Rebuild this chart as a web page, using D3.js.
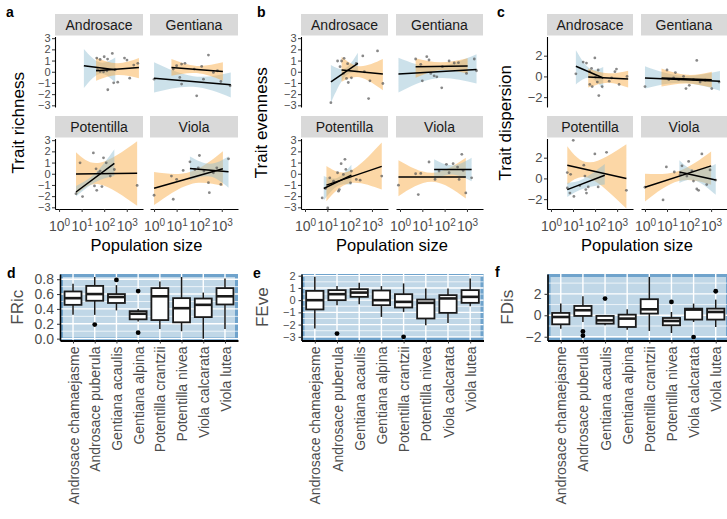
<!DOCTYPE html>
<html>
<head>
<meta charset="utf-8">
<script src="https://cdn.jsdelivr.net/npm/d3@7"></script>
<style>
  body { margin: 0; background: #fff; }
  svg { display: block; font-family: "Liberation Sans", Arial, Helvetica, sans-serif; }
</style>
</head>
<body>
<svg id="chart" width="727" height="519"></svg>
<script>
// ---------------------------------------------------------------
// Data
// ---------------------------------------------------------------
const genera = ["Androsace", "Gentiana", "Potentilla", "Viola"];
const species = ["Androsace chamaejasme", "Androsace puberula", "Gentiana acaulis", "Gentiana alpina",
                 "Potentilla crantzii", "Potentilla nivea", "Viola calcarata", "Viola lutea"];
const popDecades = [0, 1, 2, 3];          // log10 population size ticks
const traitTicks = [-3, -2, -1, 0, 1, 2, 3];
const dispersionTicks = [-2, 0, 2];

// Populations: [genus, log10 population size, standardised trait value]
const richnessPoints = [
  ["Androsace",1.67,1.22],["Androsace",1.82,1.10],["Androsace",2.00,1.34],["Androsace",2.15,1.13],["Androsace",2.36,1.64],
  ["Androsace",1.70,0.18],["Androsace",1.82,0.03],["Androsace",1.97,0.00],["Androsace",2.12,0.09],["Androsace",2.42,-0.99],
  ["Androsace",2.60,-0.93],["Androsace",2.16,-1.61],["Androsace",2.90,1.22],["Androsace",3.01,1.04],["Androsace",3.13,-0.57],
  ["Androsace",3.31,0.60],["Androsace",3.49,0.75],["Androsace",2.49,0.18],
  ["Gentiana",0.00,-0.66],["Gentiana",0.85,0.24],["Gentiana",1.00,0.54],["Gentiana",1.22,0.69],["Gentiana",1.37,0.75],
  ["Gentiana",1.14,-0.51],["Gentiana",1.22,-1.10],["Gentiana",1.89,-2.15],["Gentiana",2.11,0.48],["Gentiana",2.41,1.49],
  ["Gentiana",2.19,-0.66],["Gentiana",2.63,-0.06],["Gentiana",2.81,0.09],["Gentiana",2.96,-0.87],["Gentiana",3.37,-1.25],
  ["Gentiana",1.78,0.24],
  ["Potentilla",0.75,-1.78],["Potentilla",0.93,0.98],["Potentilla",1.04,-2.04],["Potentilla",1.52,1.86],["Potentilla",1.64,0.44],
  ["Potentilla",1.57,-1.09],["Potentilla",1.67,-1.48],["Potentilla",1.97,1.42],["Potentilla",2.09,0.98],["Potentilla",2.27,-0.21],
  ["Potentilla",2.45,0.38],["Potentilla",3.46,-1.04],["Potentilla",1.82,0.24],["Potentilla",1.90,-1.15],["Potentilla",1.75,0.09],
  ["Viola",0.00,-1.92],["Viola",0.77,-0.21],["Viola",0.85,-2.28],["Viola",1.00,-0.50],["Viola",1.29,0.30],
  ["Viola",1.59,1.07],["Viola",1.81,0.38],["Viola",2.01,1.63],["Viola",2.21,0.24],["Viola",2.41,-0.80],
  ["Viola",2.45,-1.69],["Viola",2.63,0.09],["Viola",2.78,0.53],["Viola",2.96,-0.95],["Viola",3.30,1.33],["Viola",1.96,0.53]
];
const evennessPoints = [
  ["Androsace",1.16,-2.76],["Androsace",1.46,0.96],["Androsace",1.64,0.96],["Androsace",1.75,1.20],["Androsace",1.91,0.72],
  ["Androsace",1.72,-0.15],["Androsace",1.86,-0.60],["Androsace",1.94,-0.96],["Androsace",2.08,-0.54],["Androsace",2.30,0.75],
  ["Androsace",2.59,1.41],["Androsace",2.66,0.00],["Androsace",2.91,-0.81],["Androsace",2.85,-2.40],["Androsace",3.25,1.86],
  ["Androsace",3.49,-1.05],["Androsace",1.57,0.45],
  ["Gentiana",0.70,1.14],["Gentiana",0.93,0.66],["Gentiana",1.20,1.35],["Gentiana",1.38,-0.15],["Gentiana",1.00,-0.81],
  ["Gentiana",1.53,-0.36],["Gentiana",1.65,-0.45],["Gentiana",1.87,-1.44],["Gentiana",1.90,0.45],["Gentiana",2.20,0.96],
  ["Gentiana",2.43,0.78],["Gentiana",2.62,0.81],["Gentiana",2.98,-0.15],["Gentiana",3.33,1.14],["Gentiana",3.43,0.09],
  ["Gentiana",1.30,1.05],
  ["Potentilla",0.77,-2.16],["Potentilla",0.92,-1.32],["Potentilla",1.02,-3.06],["Potentilla",1.11,-0.36],["Potentilla",1.46,0.09],
  ["Potentilla",1.50,-1.56],["Potentilla",1.54,-1.41],["Potentilla",1.62,0.90],["Potentilla",1.79,1.29],["Potentilla",1.83,0.39],
  ["Potentilla",2.08,0.24],["Potentilla",2.04,-0.81],["Potentilla",2.30,-0.51],["Potentilla",2.47,-0.57],["Potentilla",3.44,-0.21],
  ["Potentilla",1.28,-0.66],["Potentilla",1.72,-0.06],
  ["Viola",-0.07,-1.02],["Viola",0.70,0.00],["Viola",0.93,0.03],["Viola",0.82,-1.86],["Viola",1.30,1.05],
  ["Viola",1.57,-0.51],["Viola",1.75,0.24],["Viola",2.08,0.84],["Viola",2.20,0.09],["Viola",2.38,0.90],
  ["Viola",2.65,-0.51],["Viola",2.77,1.74],["Viola",2.83,0.30],["Viola",2.95,-1.71],["Viola",3.21,-0.36],["Viola",2.58,0.60]
];
const dispersionPoints = [
  ["Androsace",1.13,0.25],["Androsace",1.46,1.38],["Androsace",1.61,1.29],["Androsace",1.99,1.78],["Androsace",1.84,0.77],
  ["Androsace",1.76,0.46],["Androsace",2.02,-0.06],["Androsace",2.14,0.62],["Androsace",1.76,-0.77],["Androsace",1.87,-0.98],
  ["Androsace",2.10,-0.55],["Androsace",2.17,-1.85],["Androsace",2.32,-0.98],["Androsace",2.64,-0.46],["Androsace",2.90,0.46],
  ["Androsace",2.97,0.71],["Androsace",2.75,-0.15],["Androsace",3.09,-0.77],["Androsace",3.45,0.00],
  ["Gentiana",0.00,-0.98],["Gentiana",1.00,0.62],["Gentiana",1.38,0.37],["Gentiana",1.08,-0.31],["Gentiana",1.30,-0.15],
  ["Gentiana",1.53,-0.31],["Gentiana",1.86,-1.17],["Gentiana",2.01,-0.86],["Gentiana",2.35,1.54],["Gentiana",2.50,-0.55],
  ["Gentiana",2.73,-0.37],["Gentiana",3.03,-1.17],["Gentiana",3.36,-0.55],["Gentiana",1.75,0.00],["Gentiana",2.20,-0.31],
  ["Potentilla",0.74,0.56],["Potentilla",0.89,0.39],["Potentilla",1.01,3.67],["Potentilla",0.74,-0.92],["Potentilla",0.86,-1.41],
  ["Potentilla",1.04,-1.74],["Potentilla",1.31,-0.69],["Potentilla",1.54,0.23],["Potentilla",1.49,1.28],["Potentilla",1.61,-1.41],
  ["Potentilla",1.69,-0.82],["Potentilla",1.99,2.36],["Potentilla",2.14,-0.82],["Potentilla",2.52,2.52],["Potentilla",3.42,-1.15],
  ["Potentilla",1.58,-1.08],
  ["Viola",0.00,-0.85],["Viola",0.82,-2.07],["Viola",0.97,1.11],["Viola",1.33,0.62],["Viola",1.60,0.39],
  ["Viola",1.68,1.21],["Viola",1.98,1.64],["Viola",2.13,0.72],["Viola",2.35,-1.02],["Viola",2.43,-1.15],
  ["Viola",2.58,2.36],["Viola",2.80,-0.59],["Viola",2.95,0.82],["Viola",3.21,-0.16],["Viola",1.90,0.23],["Viola",2.20,-0.26]
];

// Linear fits per species (grp 0 / 1): fitted line from (x0,y0) to (x1,y1) on log10 size,
// 95% band lower/upper at x0, at the narrowest point xm, and at x1
const richnessFits = [
  {genus:"Androsace", grp:1, x0:1.10, x1:2.49, y0:0.54, y1:0.18, xm:1.80, lo:[-1.46,-0.20,-0.96], hi:[2.03,0.84,1.28]},
  {genus:"Androsace", grp:0, x0:1.64, x1:3.54, y0:0.09, y1:0.39, xm:2.57, lo:[-0.80,-0.30,-0.57], hi:[1.28,0.75,1.22]},
  {genus:"Gentiana", grp:1, x0:0.00, x1:3.40, y0:-0.57, y1:-1.16, xm:1.74, lo:[-1.85,-1.35,-2.30], hi:[0.84,-0.40,-0.06]},
  {genus:"Gentiana", grp:0, x0:0.77, x1:3.05, y0:0.39, y1:0.03, xm:1.89, lo:[-0.36,-0.12,-0.80], hi:[1.13,0.52,0.84]},
  {genus:"Potentilla", grp:0, x0:0.75, x1:3.46, y0:-0.02, y1:0.04, xm:1.80, lo:[-1.92,-0.95,-2.87], hi:[1.92,0.98,2.90]},
  {genus:"Potentilla", grp:1, x0:0.75, x1:2.45, y0:-1.63, y1:0.92, xm:1.60, lo:[-2.04,-0.75,-0.20], hi:[-1.10,0.05,2.20]},
  {genus:"Viola", grp:0, x0:0.00, x1:3.05, y0:-1.30, y1:0.44, xm:1.59, lo:[-2.80,-0.95,-1.10], hi:[0.15,0.15,2.00]},
  {genus:"Viola", grp:1, x0:1.59, x1:3.30, y0:0.47, y1:0.18, xm:2.48, lo:[-0.60,-0.25,-1.24], hi:[1.55,0.90,1.57]}
];
const evennessFits = [
  {genus:"Androsace", grp:1, x0:1.16, x1:2.37, y0:-0.90, y1:0.75, xm:1.79, lo:[-2.76,-0.45,-0.10], hi:[0.60,0.30,1.70]},
  {genus:"Androsace", grp:0, x0:1.64, x1:3.49, y0:0.15, y1:-0.21, xm:2.45, lo:[-0.90,-0.50,-1.65], hi:[1.35,0.50,1.14]},
  {genus:"Gentiana", grp:1, x0:-0.07, x1:3.43, y0:-0.21, y1:0.21, xm:1.60, lo:[-1.86,-0.60,-1.05], hi:[1.26,0.45,1.56]},
  {genus:"Gentiana", grp:0, x0:0.70, x1:3.03, y0:0.45, y1:0.51, xm:1.83, lo:[-0.54,0.15,-0.15], hi:[1.20,0.84,1.20]},
  {genus:"Potentilla", grp:1, x0:0.84, x1:2.08, y0:-1.32, y1:-0.12, xm:1.46, lo:[-2.40,-1.10,-1.00], hi:[-0.21,-0.35,0.80]},
  {genus:"Potentilla", grp:0, x0:0.96, x1:3.44, y0:-1.02, y1:0.66, xm:2.00, lo:[-2.46,-0.85,-1.41], hi:[0.69,0.25,2.80]},
  {genus:"Viola", grp:0, x0:-0.07, x1:2.95, y0:-0.30, y1:-0.30, xm:1.45, lo:[-2.00,-0.72,-2.22], hi:[1.20,0.09,1.44]},
  {genus:"Viola", grp:1, x0:1.53, x1:3.21, y0:0.39, y1:0.39, xm:2.35, lo:[-0.51,-0.06,-0.66], hi:[1.29,0.75,1.44]}
];
const dispersionFits = [
  {genus:"Androsace", grp:1, x0:1.13, x1:2.37, y0:0.98, y1:-0.15, xm:1.76, lo:[-0.77,-0.15,-1.23], hi:[2.52,0.77,0.92]},
  {genus:"Androsace", grp:0, x0:1.69, x1:3.50, y0:-0.06, y1:-0.25, xm:2.60, lo:[-1.08,-0.60,-1.08], hi:[0.77,0.30,0.55]},
  {genus:"Gentiana", grp:1, x0:0.00, x1:3.40, y0:-0.15, y1:-0.46, xm:1.68, lo:[-1.17,-0.62,-1.38], hi:[0.98,0.06,0.52]},
  {genus:"Gentiana", grp:0, x0:0.75, x1:3.03, y0:-0.15, y1:-0.31, xm:1.90, lo:[-0.98,-0.68,-1.08], hi:[0.77,0.15,0.46]},
  {genus:"Potentilla", grp:0, x0:0.74, x1:3.42, y0:1.28, y1:0.00, xm:1.76, lo:[-0.59,0.00,-2.90], hi:[3.11,1.55,3.30]},
  {genus:"Potentilla", grp:1, x0:0.74, x1:2.44, y0:-1.08, y1:0.30, xm:1.46, lo:[-1.80,-1.00,-0.59], hi:[-0.43,-0.05,1.38]},
  {genus:"Viola", grp:0, x0:0.00, x1:3.00, y0:-0.85, y1:1.21, xm:1.53, lo:[-2.23,-0.26,-0.60], hi:[0.46,0.72,2.60]},
  {genus:"Viola", grp:1, x0:1.56, x1:3.21, y0:0.62, y1:-0.16, xm:2.28, lo:[-0.45,-0.20,-1.57], hi:[1.75,0.80,1.38]}
];

// Box summaries per species: [lower whisker, Q1, median, Q3, upper whisker]
const fricStats = [
  [0.32,0.455,0.545,0.635,0.74],[0.32,0.51,0.60,0.71,0.83],[0.38,0.48,0.56,0.60,0.72],[0.23,0.26,0.335,0.37,0.40],
  [0.13,0.25,0.57,0.68,0.77],[0.10,0.22,0.41,0.545,0.83],[0.00,0.29,0.455,0.54,0.62],[0.13,0.46,0.57,0.68,0.81]
];
const fricOutliers = [[1,0.19],[2,0.79],[3,0.64],[3,0.08]];
const feveStats = [
  [-2.32,-0.76,0.00,0.76,1.91],[-0.41,0.00,0.49,0.82,1.15],[-0.33,0.27,0.62,0.90,1.42],[-1.37,-0.41,0.00,0.79,1.15],
  [-0.96,-0.60,-0.14,0.49,1.37],[-2.05,-1.50,-0.22,0.05,0.96],[-1.86,-1.04,0.14,0.41,0.96],[-0.49,-0.22,0.27,0.82,1.78]
];
const feveOutliers = [[1,-2.73],[4,-3.00]];
const fdisStats = [
  [-1.25,-0.84,-0.16,0.22,1.09],[-0.62,-0.06,0.47,0.87,1.78],[-0.93,-0.78,-0.47,-0.06,0.00],[-1.34,-1.09,-0.31,0.06,0.56],
  [-1.46,0.16,0.56,1.50,3.58],[-1.65,-0.93,-0.53,-0.25,0.31],[-0.62,-0.40,0.53,0.62,1.09],[-1.09,-0.40,0.31,0.62,1.46]
];
const fdisOutliers = [[1,-1.50],[1,-1.90],[2,1.56],[5,1.25],[6,-2.03],[7,2.24]];

// ---------------------------------------------------------------
// Drawing
// ---------------------------------------------------------------
const FONT = '"Liberation Sans", Arial, Helvetica, sans-serif';
const svg = d3.select("#chart");
const groupFill = d3.scaleOrdinal().domain([0, 1]).range(["#f9a63a", "#8fbcd0"]);
const minus = v => (v < 0 ? "\u2212" : "") + Math.abs(v);

function styleAxis(ax, size) {
  ax.attr("font-size", null).attr("font-family", null);
  ax.select(".domain").attr("stroke", "#000").attr("stroke-width", 1.1);
  ax.selectAll(".tick line").attr("stroke", "#333").attr("stroke-width", 1);
  ax.selectAll(".tick text").attr("fill", "#4d4d4d").attr("font-size", size).attr("font-family", FONT);
}

function panelLetter(letter, x, y) {
  svg.append("text").attr("x", x).attr("y", y).attr("font-size", 14).attr("font-weight", "bold")
     .attr("fill", "#000").text(letter);
}

// faceted scatter + fit panels (a-c)
const facetRows = [{strip: [14, 35.5], plot: [36.5, 107]}, {strip: [116, 137.5], plot: [138.5, 209]}];
const popDomain = [-0.18, 3.72];

function facetPanel(cfg) {
  const g = svg.append("g");
  genera.forEach((gen, i) => {
    const c = i % 2, r = Math.floor(i / 2);
    const [cx0, cx1] = cfg.cols[c];
    const [sy0, sy1] = facetRows[r].strip;
    const [py0, py1] = facetRows[r].plot;
    const xs = d3.scaleLinear().domain(popDomain).range([cx0, cx1]);
    const ys = d3.scaleLinear().domain(cfg.yDomain).range([py1, py0]);

    g.append("rect").attr("x", cx0).attr("y", sy0).attr("width", cx1 - cx0).attr("height", sy1 - sy0)
     .attr("fill", "#d9d9d9");
    g.append("text").attr("x", (cx0 + cx1) / 2).attr("y", (sy0 + sy1) / 2).attr("dy", "0.36em")
     .attr("text-anchor", "middle").attr("font-size", 14).attr("fill", "#1a1a1a").text(gen);

    const clipId = `clip-${cfg.key}-${i}`;
    g.append("clipPath").attr("id", clipId).append("rect")
     .attr("x", cx0).attr("y", py0).attr("width", cx1 - cx0).attr("height", py1 - py0);
    const body = g.append("g").attr("clip-path", `url(#${clipId})`);

    const fits = cfg.fits.filter(f => f.genus === gen);
    const band = d3.area().x(d => xs(d[0])).y0(d => ys(d[1])).y1(d => ys(d[2])).curve(d3.curveNatural);
    fits.forEach(f => {
      body.append("path")
        .attr("d", band([[f.x0, f.lo[0], f.hi[0]], [f.xm, f.lo[1], f.hi[1]], [f.x1, f.lo[2], f.hi[2]]]))
        .attr("fill", groupFill(f.grp)).attr("fill-opacity", 0.45);
    });
    body.selectAll("circle").data(cfg.points.filter(p => p[0] === gen)).join("circle")
      .attr("cx", d => xs(d[1])).attr("cy", d => ys(d[2])).attr("r", 1.4)
      .attr("fill", "#555").attr("fill-opacity", 0.7);
    fits.forEach(f => {
      body.append("line").attr("x1", xs(f.x0)).attr("y1", ys(f.y0)).attr("x2", xs(f.x1)).attr("y2", ys(f.y1))
        .attr("stroke", "#000").attr("stroke-width", 1.5);
    });

    if (c === 0) {
      const ay = g.append("g").attr("transform", `translate(${cx0},0)`)
        .call(d3.axisLeft(ys).tickValues(cfg.yTicks).tickSize(3).tickSizeOuter(0).tickPadding(1.5).tickFormat(minus));
      styleAxis(ay, cfg.yTickSize);
    }
    if (r === 1) {
      const ax = g.append("g").attr("transform", `translate(0,${py1})`)
        .call(d3.axisBottom(xs).tickValues(popDecades).tickSize(3).tickSizeOuter(0).tickPadding(9.5));
      styleAxis(ax, 14);
      ax.selectAll(".tick text").text(null).each(function(d) {
        const t = d3.select(this);
        t.append("tspan").text("10");
        t.append("tspan").attr("dy", "-0.5em").attr("font-size", 10).text(d);
      });
    }
  });
  const [c0, c1] = cfg.cols;
  g.append("text").attr("text-anchor", "middle").attr("font-size", 16.5).attr("fill", "#000")
    .attr("x", (c0[0] + c1[1]) / 2).attr("y", 250.5).text("Population size");
  g.append("text").attr("text-anchor", "middle").attr("font-size", 17).attr("fill", "#000").attr("dy", "0.36em")
    .attr("transform", `translate(${cfg.titleX},${(facetRows[0].plot[0] + facetRows[1].plot[1]) / 2}) rotate(-90)`)
    .text(cfg.title);
}

// box plot panels (d-f)
function boxPanel(cfg) {
  const g = svg.append("g");
  const [x0, x1] = cfg.xr, [y0, y1] = [274, 340.5];
  const xs = d3.scalePoint().domain(species).range([x0, x1]).padding(0.6);
  const ys = d3.scaleLinear().domain(cfg.yDomain).range([y1, y0]);
  const step = xs.step(), bw = step * 0.78;

  g.append("rect").attr("x", x0).attr("y", y0).attr("width", x1 - x0).attr("height", y1 - y0).attr("fill", "#c0d7e7");
  g.append("rect").attr("x", x0 + 1.5).attr("y", y0 + 1.5).attr("width", x1 - x0 - 3).attr("height", y1 - y0 - 3)
   .attr("fill", "none").attr("stroke", "#6fa3cc").attr("stroke-width", 3);
  cfg.minor.forEach(v => g.append("line").attr("x1", x0).attr("x2", x1).attr("y1", ys(v)).attr("y2", ys(v))
    .attr("stroke", "#fff").attr("stroke-width", 0.7));
  cfg.major.forEach(v => g.append("line").attr("x1", x0).attr("x2", x1).attr("y1", ys(v)).attr("y2", ys(v))
    .attr("stroke", "#fff").attr("stroke-width", 1.4));
  species.forEach(s => g.append("line").attr("x1", xs(s)).attr("x2", xs(s)).attr("y1", y0).attr("y2", y1)
    .attr("stroke", "#fff").attr("stroke-width", 1.4));

  cfg.stats.forEach((st, i) => {
    const cx = xs(species[i]);
    const [lo, q1, med, q3, hi] = st;
    g.append("line").attr("x1", cx).attr("x2", cx).attr("y1", ys(hi)).attr("y2", ys(q3))
      .attr("stroke", "#1a1a1a").attr("stroke-width", 1.5);
    g.append("line").attr("x1", cx).attr("x2", cx).attr("y1", ys(q1)).attr("y2", ys(lo))
      .attr("stroke", "#1a1a1a").attr("stroke-width", 1.5);
    g.append("rect").attr("x", cx - bw / 2).attr("width", bw).attr("y", ys(q3)).attr("height", ys(q1) - ys(q3))
      .attr("fill", "#fff").attr("stroke", "#1a1a1a").attr("stroke-width", 1.8);
    g.append("line").attr("x1", cx - bw / 2).attr("x2", cx + bw / 2).attr("y1", ys(med)).attr("y2", ys(med))
      .attr("stroke", "#1a1a1a").attr("stroke-width", 2.6);
  });
  g.selectAll("circle.out").data(cfg.outliers).join("circle").attr("class", "out")
    .attr("cx", d => xs(species[d[0]])).attr("cy", d => ys(d[1])).attr("r", 2.4).attr("fill", "#000");

  const ay = g.append("g").attr("transform", `translate(${x0},0)`)
    .call(d3.axisLeft(ys).tickValues(cfg.major).tickSize(3).tickSizeOuter(0).tickPadding(3).tickFormat(cfg.fmt));
  styleAxis(ay, cfg.tickSize);
  ay.select(".domain").attr("stroke-width", 1.6);
  const ax = g.append("g").attr("transform", `translate(0,${y1})`)
    .call(d3.axisBottom(xs).tickSize(3).tickSizeOuter(0));
  styleAxis(ax, 14);
  ax.select(".domain").attr("stroke-width", 1.8);
  ax.selectAll(".tick text").attr("transform", "rotate(-90)").attr("text-anchor", "end")
    .attr("x", -6).attr("y", 0).attr("dy", "0.36em");

  g.append("text").attr("text-anchor", "middle").attr("font-size", 17).attr("fill", "#4d4d4d").attr("dy", "0.36em")
    .attr("transform", `translate(${cfg.titleX},${(y0 + y1) / 2}) rotate(-90)`).text(cfg.title);
}

facetPanel({key: "a", cols: [[55, 143], [150, 238]], yDomain: [-3.15, 3.15], yTicks: traitTicks, yTickSize: 11,
  fits: richnessFits, points: richnessPoints, title: "Trait richness", titleX: 18});
facetPanel({key: "b", cols: [[301, 388], [396, 483]], yDomain: [-3.15, 3.15], yTicks: traitTicks, yTickSize: 11,
  fits: evennessFits, points: evennessPoints, title: "Trait evenness", titleX: 261});
facetPanel({key: "c", cols: [[547, 633], [641, 727]], yDomain: [-2.95, 3.85], yTicks: dispersionTicks, yTickSize: 13,
  fits: dispersionFits, points: dispersionPoints, title: "Trait dispersion", titleX: 505});

boxPanel({xr: [60, 238], yDomain: [-0.025, 0.87], major: [0, 0.2, 0.4, 0.6, 0.8], minor: [0.1, 0.3, 0.5, 0.7],
  fmt: d3.format(".1f"), tickSize: 14, stats: fricStats, outliers: fricOutliers, title: "FRic", titleX: 17});
boxPanel({xr: [301.5, 483.5], yDomain: [-3.3, 2.14], major: [-3, -2, -1, 0, 1, 2], minor: [-2.5, -1.5, -0.5, 0.5, 1.5],
  fmt: minus, tickSize: 11, stats: feveStats, outliers: feveOutliers, title: "FEve", titleX: 261.5});
boxPanel({xr: [547.5, 729], yDomain: [-2.35, 3.85], major: [-2, 0, 2], minor: [-1, 1, 3],
  fmt: minus, tickSize: 14, stats: fdisStats, outliers: fdisOutliers, title: "FDis", titleX: 506.5});

panelLetter("a", 6, 17.3);
panelLetter("b", 257, 17.3);
panelLetter("c", 497, 17.3);
panelLetter("d", 7, 278);
panelLetter("e", 253, 278);
panelLetter("f", 495, 277);
</script>
</body>
</html>
